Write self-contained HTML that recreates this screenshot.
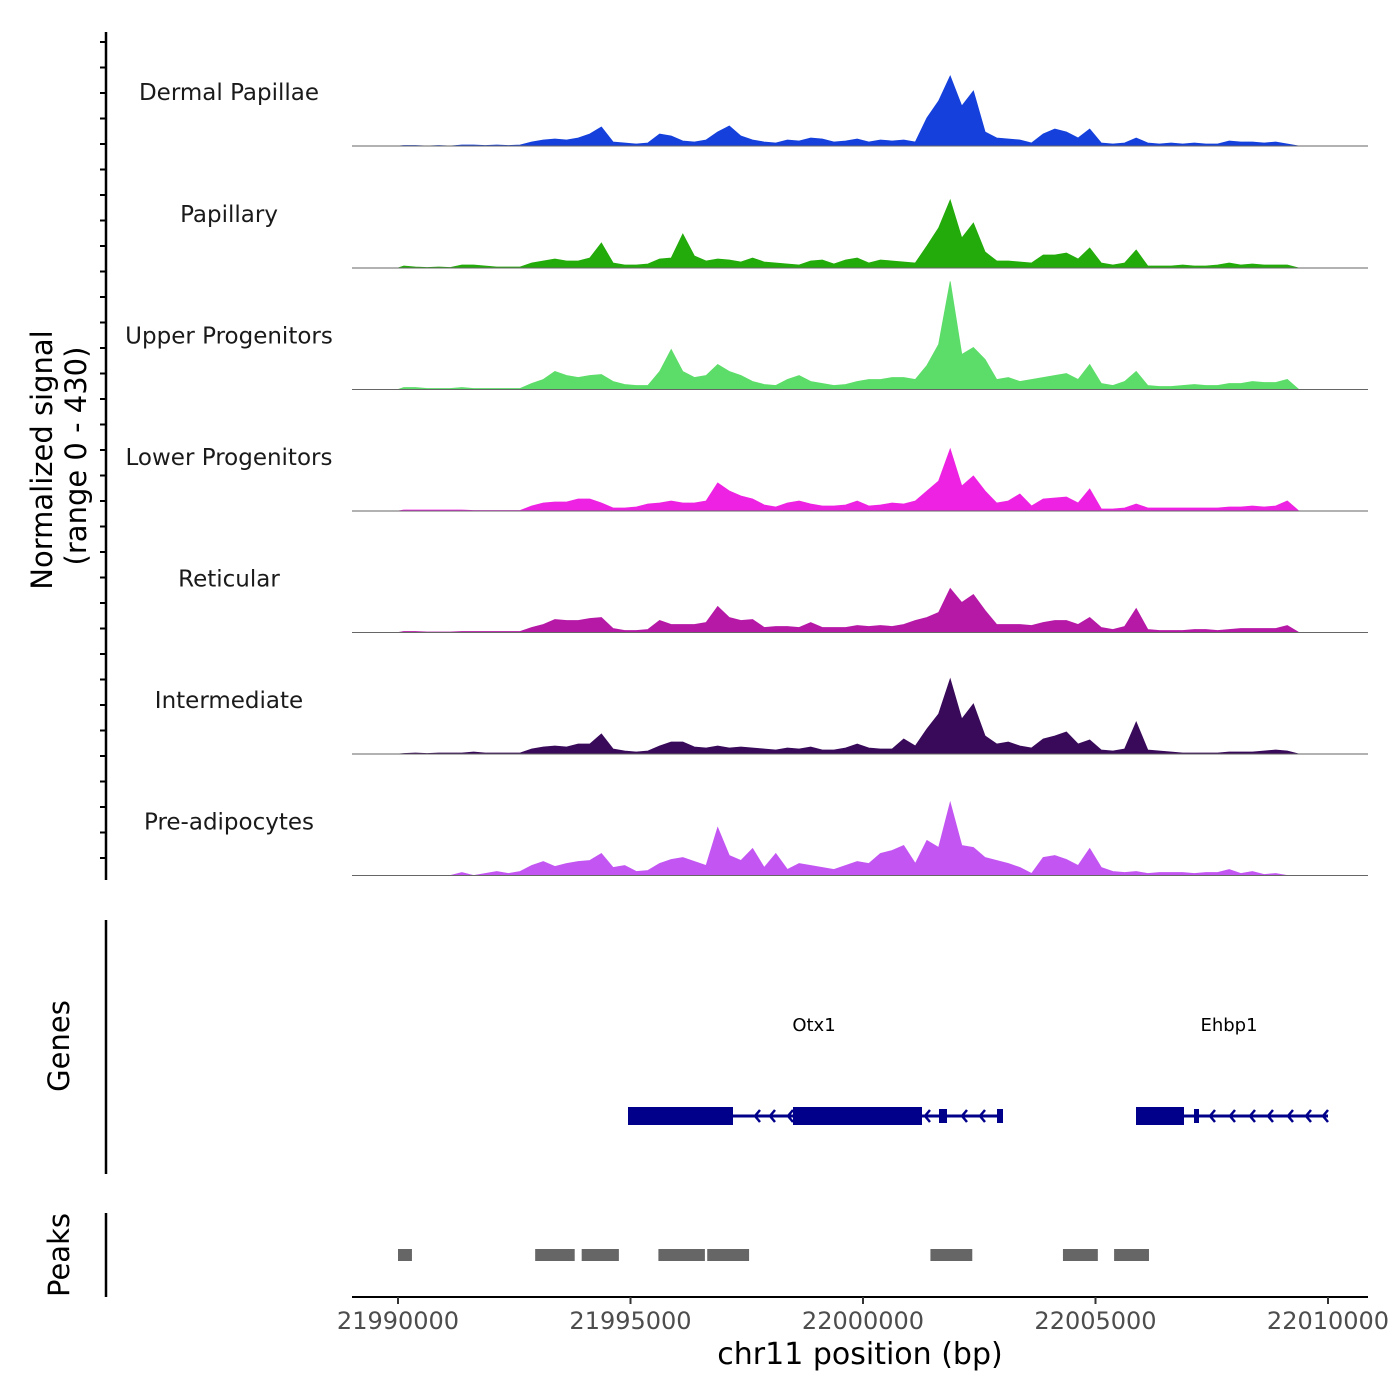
<!DOCTYPE html>
<html><head><meta charset="utf-8"><style>
html,body{margin:0;padding:0;background:#fff;}
svg{display:block;font-family:"DejaVu Sans","Liberation Sans",sans-serif;}
</style></head><body>
<svg id="chart" width="1400" height="1400" viewBox="0 0 1400 1400"></svg>
<script>
// genomic positions of signal bins (bp, bin start), 250bp bins
const binStart = 21990000;
const binSize = 250;
const trackNames = ["Dermal Papillae","Papillary","Upper Progenitors","Lower Progenitors","Reticular","Intermediate","Pre-adipocytes"];
const trackColors = ["#1540dc","#22ab0a","#5cdc68","#ee22e2","#b519a6","#390a5a","#c356f2"];
const dermalPapillae = [0.5,0.5,0,0.5,0,1,1,0.5,1,0.5,1,4,6,7,6,8,12,19,4,3,2,3,12,10,5,4,6,14,20,10,6,4,3,6,5,8,7,4,5,7,4,6,5,6,4,28,45,70,40,55,14,8,7,6,3,12,17,14,8,17,3,2,3,8,3,2,3,2,3,2,2,5,4,4,3,4,2,0];
const papillary = [2,1,0.5,1,0.5,3,3,2,1,1,1,5,7,9,7,7,10,25,5,3,3,4,9,10,34,12,7,9,8,6,10,6,5,4,3,7,8,4,8,10,5,8,7,6,5,22,40,68,30,45,16,7,7,6,5,13,13,15,9,20,5,3,5,18,2,2,2,3,2,2,3,5,3,4,3,3,3,0];
const upperProgenitors = [2,2,1,1,1,2,1,1,1,1,1,6,10,18,14,12,14,15,8,5,4,4,18,40,18,12,14,25,18,14,8,5,4,10,14,8,6,4,5,8,10,10,12,12,10,24,45,108,35,42,30,10,12,8,10,12,14,16,10,25,6,4,8,18,4,3,3,4,5,4,4,6,6,8,7,7,10,0];
const lowerProgenitors = [1,1,1,1,1,1,0.5,0.5,0.5,0.5,0.5,5,8,9,9,12,12,8,3,3,4,7,8,10,8,8,10,28,20,15,12,6,4,8,10,7,5,5,6,10,5,6,8,7,10,20,30,62,25,35,20,8,10,17,5,12,13,14,8,22,2,2,3,7,3,3,3,3,3,3,3,4,4,5,4,5,10,0];
const reticular = [1,1,0.5,0.5,0.5,1,1,1,1,1,1,5,8,13,12,12,14,15,4,2,2,3,12,8,8,8,10,26,15,12,13,5,6,6,5,10,5,5,5,7,6,7,6,8,12,15,20,44,30,38,22,8,8,8,7,10,12,12,8,15,5,3,6,24,3,2,2,2,3,3,2,3,4,4,4,4,7,0];
const intermediate = [0.5,1,0.5,1,1,1,2,1,1,1,1,5,7,8,7,10,10,20,5,3,2,3,8,12,12,7,6,8,6,7,6,5,4,6,5,7,4,4,6,10,6,5,5,15,8,25,40,75,35,50,18,10,12,8,6,15,18,22,10,14,4,3,5,32,4,3,2,1,1,1,1,2,2,2,3,4,3,0];
const preAdipocytes = [0,0,0,0,0,3,0,2,4,2,4,10,14,9,12,14,15,22,8,10,4,5,12,16,18,14,10,48,20,15,27,8,22,6,12,10,8,6,10,14,12,22,25,30,12,35,28,73,30,28,18,15,12,8,2,18,20,16,10,27,8,4,3,4,2,3,3,3,2,3,3,6,2,4,1,2,0,0];
const series = [dermalPapillae,papillary,upperProgenitors,lowerProgenitors,reticular,intermediate,preAdipocytes];
const xTicks = [21990000,21995000,22000000,22005000,22010000];
const peakStarts = [21990000,21992950,21993950,21995600,21996650,22001450,22004300,22005400];
const peakEnds   = [21990300,21993800,21994750,21996600,21997550,22002350,22005050,22006150];

const NS="http://www.w3.org/2000/svg";
const svg=document.getElementById('chart');
function el(t,a,p){const e=document.createElementNS(NS,t);for(const k in a)e.setAttribute(k,a[k]);(p||svg).appendChild(e);return e;}
const xScale = bp => 398 + (bp-21990000)*0.0465;
const yMax = 121;
const baselines=[146,268,389.5,511,632.5,754,875.5];
const trackH = 121;

series.forEach((vals,t)=>{
  const g=el('g',{});
  
  
  const b=baselines[t];
  const yS=v=>b - v/yMax*trackH;
  let d='M'+xScale(binStart)+','+b;
  vals.forEach((v,i)=>{ d+=' L'+xScale(binStart+binSize*(i+0.5)).toFixed(1)+','+yS(v).toFixed(1); });
  d+=' L'+xScale(binStart+binSize*vals.length)+','+b+' Z';
  const p=el('path',{d:d,fill:trackColors[t],stroke:trackColors[t],'stroke-width':0.8},g);
  
  
  const ln=el('line',{x1:352,x2:1368,y1:b,y2:b,stroke:'#666','stroke-width':1},g);
  
  
  const tx=el('text',{x:229,y:b-46,'text-anchor':'middle','font-size':23,fill:'#1a1a1a'},g);
  tx.textContent=trackNames[t];
  
  
});

// left axis of coverage
const ax=el('line',{x1:106,x2:106,y1:32,y2:880,stroke:'#000','stroke-width':2.5});


for(let y=42;y<=880;y+=25.5){
  const tk=el('line',{x1:100,x2:106,y1:y,y2:y,stroke:'#000','stroke-width':2});
  
  
}
const yt=el('text',{transform:'translate(52,460) rotate(-90)','text-anchor':'middle','font-size':29,fill:'#000'});
yt.textContent='Normalized signal';


const yt2=el('text',{transform:'translate(86,456) rotate(-90)','text-anchor':'middle','font-size':29,fill:'#000'});
yt2.textContent='(range 0 - 430)';



// genes panel
const ga=el('line',{x1:106,x2:106,y1:920,y2:1174,stroke:'#000','stroke-width':2.5});


const gt=el('text',{transform:'translate(69,1046) rotate(-90)','text-anchor':'middle','font-size':29,fill:'#000'});
gt.textContent='Genes';


const C='#00008b';
function gene(name,labelX,x1,x2,boxes,chev){
  const g=el('g',{});
  
  
  el('line',{x1:x1,x2:x2,y1:1116,y2:1116,stroke:C,'stroke-width':3},g);
  boxes.forEach(bx=>el('rect',{x:bx[0],y:1116-bx[2]/2,width:bx[1]-bx[0],height:bx[2],fill:C},g));
  chev.forEach(cx=>el('path',{d:`M${cx+5},${1110} L${cx},${1116} L${cx+5},${1122}`,fill:'none',stroke:C,'stroke-width':2.5},g));
  const t=el('text',{x:labelX,y:1031,'text-anchor':'middle','font-size':18,fill:'#000'},g);
  t.textContent=name;
}
gene('Otx1',814,628,1003,[[628,733,18],[793,922,18],[939,947,14],[997,1003,14]],[755,770,788,925,962,980]);
gene('Ehbp1',1229,1136,1328,[[1136,1184,18],[1194,1199,14]],[1210,1230,1250,1268,1288,1306,1323]);

// peaks
const pa=el('line',{x1:106,x2:106,y1:1213,y2:1297,stroke:'#000','stroke-width':2.5});


const pt=el('text',{transform:'translate(69,1255) rotate(-90)','text-anchor':'middle','font-size':29,fill:'#000'});
pt.textContent='Peaks';


peakStarts.forEach((s,i)=>{
  const r=el('rect',{x:xScale(s),y:1249,width:xScale(peakEnds[i])-xScale(s),height:12,fill:'#666'});
  
  
});

// x axis
const xa=el('line',{x1:352,x2:1368,y1:1297,y2:1297,stroke:'#000','stroke-width':2});


xTicks.forEach(v=>{
  const x=xScale(v);
  const tk=el('line',{x1:x,x2:x,y1:1297,y2:1304,stroke:'#333','stroke-width':2});
  
  
  const t=el('text',{x:x,y:1329,'text-anchor':'middle','font-size':24,fill:'#4d4d4d'});
  t.textContent=String(v);
  
  
});
const xt=el('text',{x:860,y:1364,'text-anchor':'middle','font-size':30,fill:'#000'});
xt.textContent='chr11 position (bp)';


</script>
</body></html>
